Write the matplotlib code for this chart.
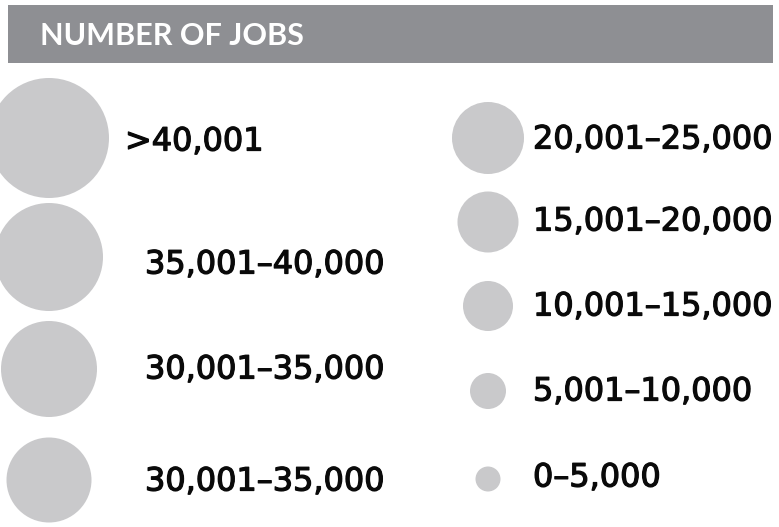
import matplotlib
matplotlib.use("Agg")
import matplotlib.pyplot as plt
import matplotlib.patheffects as pe
from matplotlib.patches import Circle, Rectangle

title = "NUMBER OF JOBS"
left_labels = [">40,001", "35,001–40,000", "30,001–35,000", "30,001–35,000"]
left_radii = [60, 54, 48, 42.5]
right_labels = ["20,001–25,000", "15,001–20,000", "10,001–15,000", "5,001–10,000", "0–5,000"]
right_radii = [36, 30.5, 25, 18, 12.5]

# layout (pixel coordinates)
left_rows = [138, 257, 369, 480]
left_text_x = [125, 145, 145, 145]
left_text_y = [142, 265, 370, 482]
right_rows = [138, 222, 306, 391, 479]
right_text_y = [140, 222, 307, 392, 478]

W, H = 779, 527
fig = plt.figure(figsize=(W / 100, H / 100), dpi=100)
ax = fig.add_axes([0, 0, 1, 1])
ax.set_xlim(0, W)
ax.set_ylim(H, 0)
ax.axis("off")

circ_color = "#c9c9cb"
ax.add_patch(Rectangle((8, 5), 765, 58, color="#8e8f93", lw=0))
ax.text(40, 36, title, color="white", fontsize=22, fontweight="bold",
        family="Lato", va="center", ha="left")

stroke = [pe.withStroke(linewidth=0.9, foreground="#0a0a0a")]
lab_font = dict(fontsize=23, fontweight="normal", family="DejaVu Sans",
                va="center", ha="left", color="#0a0a0a", path_effects=stroke)

for r, y, tx, ty, lab in zip(left_radii, left_rows, left_text_x, left_text_y, left_labels):
    ax.add_patch(Circle((49, y), r, color=circ_color, lw=0))
    ax.text(tx, ty, lab, **lab_font)

for r, y, ty, lab in zip(right_radii, right_rows, right_text_y, right_labels):
    ax.add_patch(Circle((488, y), r, color=circ_color, lw=0))
    ax.text(533, ty, lab, **lab_font)

fig.savefig("out.png", dpi=100)
